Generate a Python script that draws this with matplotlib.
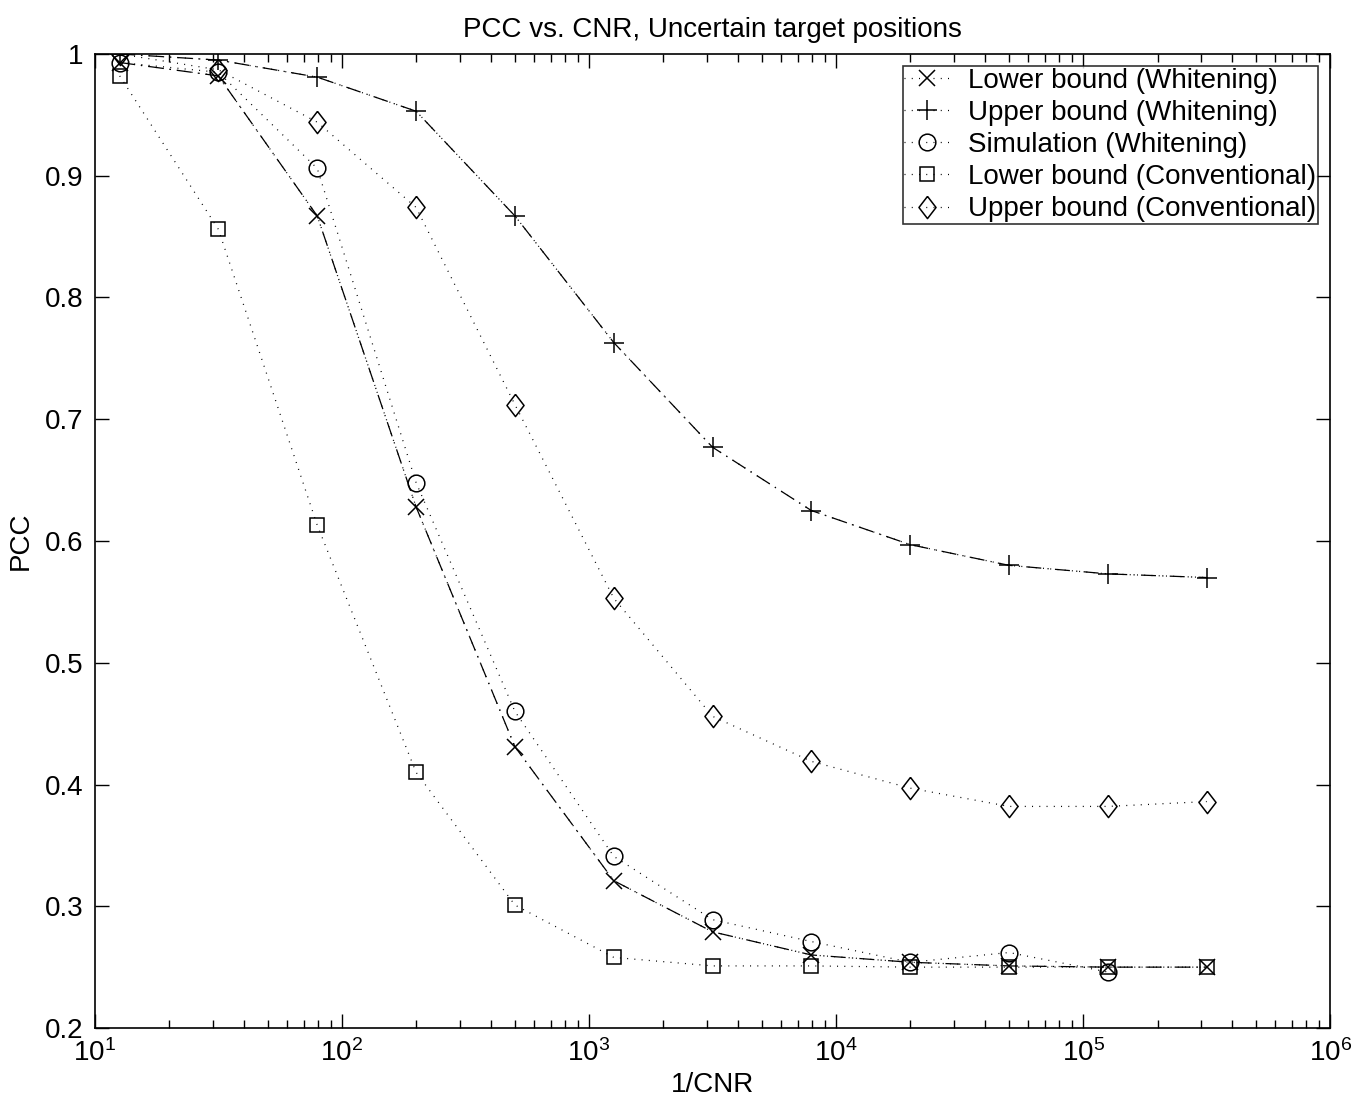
import numpy as np
import matplotlib
matplotlib.use("Agg")
import matplotlib.pyplot as plt
from matplotlib.ticker import FixedLocator, FormatStrFormatter, LogLocator

plt.rcParams['font.family'] = ['Liberation Sans', 'DejaVu Sans']
plt.rcParams['mathtext.default'] = 'regular'

# 1/CNR sample points (log-spaced, 0.4 decade step)
cnr_inv = [12.6, 31.6, 79.4, 199.5, 501.2, 1259, 3162, 7943, 19953, 50119, 125893, 316228]

lower_white = [0.993, 0.982, 0.867, 0.628, 0.431, 0.321, 0.279, 0.260, 0.254, 0.251, 0.250, 0.250]
upper_white = [1.000, 0.995, 0.981, 0.953, 0.867, 0.763, 0.677, 0.625, 0.597, 0.580, 0.573, 0.570]
simulation = [0.993, 0.985, 0.906, 0.648, 0.460, 0.341, 0.289, 0.271, 0.254, 0.262, 0.246]
lower_conv = [0.982, 0.856, 0.613, 0.410, 0.301, 0.258, 0.251, 0.251, 0.250, 0.250, 0.250, 0.250]
upper_conv = [1.000, 0.987, 0.944, 0.874, 0.712, 0.553, 0.456, 0.419, 0.397, 0.382, 0.382, 0.386]

labels = ["Lower bound (Whitening)", "Upper bound (Whitening)", "Simulation (Whitening)",
          "Lower bound (Conventional)", "Upper bound (Conventional)"]

fig = plt.figure(figsize=(13.56, 11.11), dpi=100)
ax = fig.add_axes([0.070, 0.0747, 0.911, 0.8767])

dot = (0.8, 5)
dashdot = (12, 5, 1, 5)
diamond = [(0, 1), (0.77, 0), (0, -1), (-0.77, 0), (0, 1)]
fs = 20

# whitening bounds drawn with dash-dot lines
ax.plot(cnr_inv, lower_white, color='k', lw=0.9, dashes=dashdot)
ax.plot(cnr_inv, upper_white, color='k', lw=0.9, dashes=dashdot)

h = []
h += ax.plot(cnr_inv, lower_white, color='k', lw=0.9, dashes=dot, marker='x', ms=11,
             mew=1.1, mfc='none', label=labels[0])
h += ax.plot(cnr_inv, upper_white, color='k', lw=0.9, dashes=dot, marker='+', ms=14,
             mew=1.1, mfc='none', label=labels[1])
h += ax.plot(cnr_inv[:len(simulation)], simulation, color='k', lw=0.9, dashes=dot, marker='o',
             ms=12, mew=1.1, mfc='none', label=labels[2])
h += ax.plot(cnr_inv, lower_conv, color='k', lw=0.9, dashes=dot, marker='s', ms=10,
             mew=1.1, mfc='none', label=labels[3])
h += ax.plot(cnr_inv, upper_conv, color='k', lw=0.9, dashes=dot, marker=diamond, ms=16,
             mew=1.1, mfc='none', label=labels[4])

ax.set_xscale('log')
ax.set_xlim(10, 1e6)
ax.set_ylim(0.2, 1.0)
ax.yaxis.set_major_locator(FixedLocator([0.2, 0.3, 0.4, 0.5, 0.6, 0.7, 0.8, 0.9, 1.0]))
ax.yaxis.set_major_formatter(FormatStrFormatter('%g'))
ax.xaxis.set_minor_locator(LogLocator(base=10, subs=np.arange(2, 10), numticks=20))

ax.tick_params(which='both', direction='in', top=True, right=True, labelsize=fs, width=1)
ax.tick_params(which='major', length=10, pad=8)
ax.tick_params(which='minor', length=6)
for s in ax.spines.values():
    s.set_linewidth(1.2)

ax.set_title("PCC vs. CNR, Uncertain target positions", fontsize=fs, pad=12)
ax.set_xlabel("1/CNR", fontsize=fs, labelpad=4)
ax.set_ylabel("PCC", fontsize=fs, labelpad=8)

leg = ax.legend(handles=h, loc='upper right', fontsize=fs, frameon=True, fancybox=False,
                edgecolor='k', borderaxespad=0.45, handlelength=1.6, labelspacing=0.22,
                borderpad=0.05, handletextpad=0.7)
leg.get_frame().set_linewidth(1.2)

fig.savefig("out.png", dpi=100)
